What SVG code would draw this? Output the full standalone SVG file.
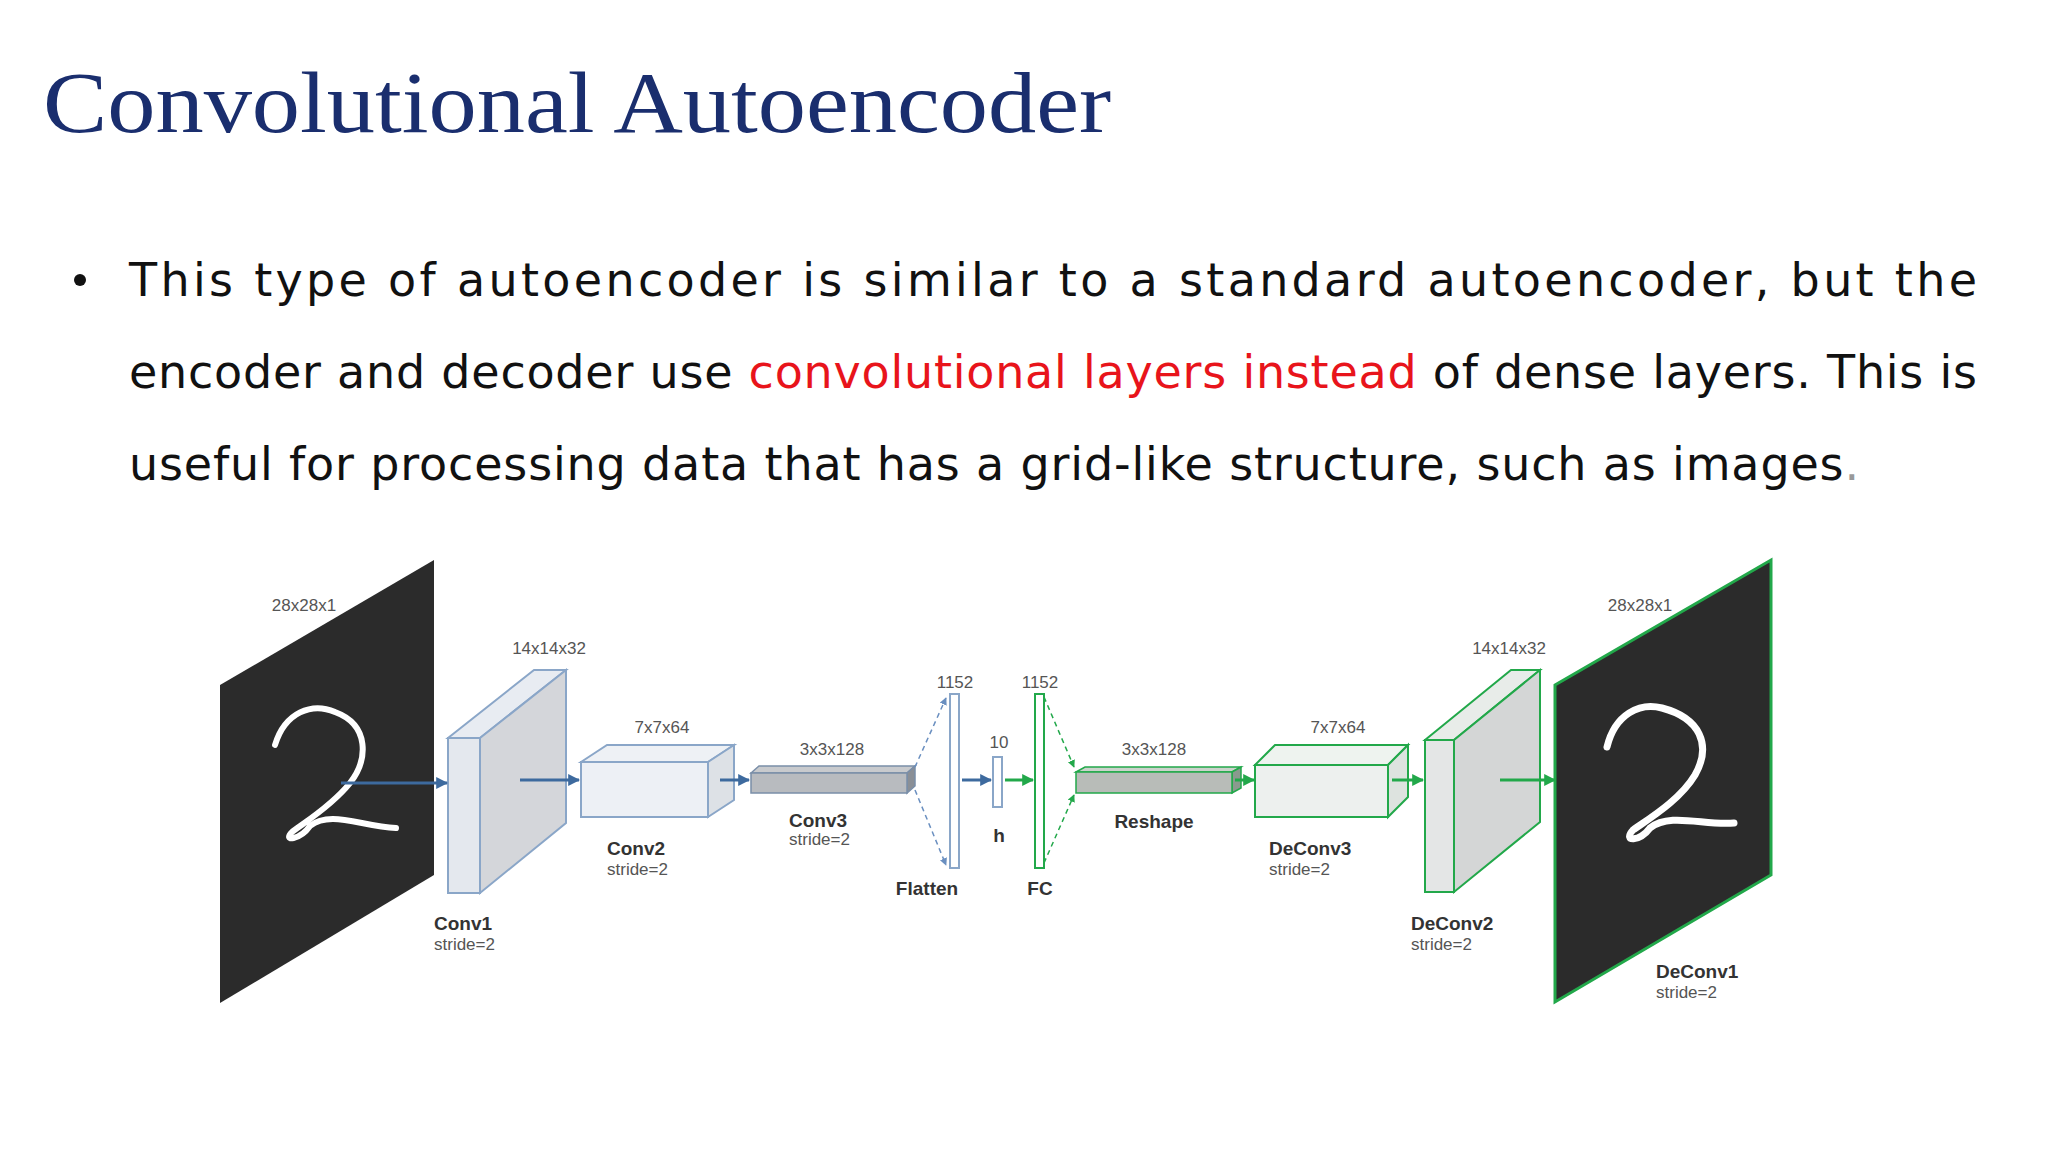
<svg xmlns="http://www.w3.org/2000/svg" width="2048" height="1152" viewBox="0 0 2048 1152">
<defs>
<style>
.t{font-family:"Liberation Sans",Arial,sans-serif;fill:#555;font-size:17px;text-anchor:middle}
.b{font-family:"Liberation Sans",Arial,sans-serif;fill:#333;font-size:19px;font-weight:bold}
.s{font-family:"Liberation Sans",Arial,sans-serif;fill:#555;font-size:17px}
.body{font-family:"DejaVu Sans",sans-serif;font-size:46px;fill:#111}
.bl{stroke:#3d6a9e;stroke-width:3;fill:none}
.gr{stroke:#22a84a;stroke-width:3;fill:none}
.dbl{stroke:#6a8fc0;stroke-width:1.5;stroke-dasharray:5 4;fill:none}
.dgr{stroke:#22a84a;stroke-width:1.5;stroke-dasharray:5 4;fill:none}
</style>
<marker id="ab" viewBox="0 0 10 10" refX="9" refY="5" markerWidth="4" markerHeight="4" orient="auto"><path d="M0,0L10,5L0,10z" fill="#3d6a9e"/></marker>
<marker id="ag" viewBox="0 0 10 10" refX="9" refY="5" markerWidth="4" markerHeight="4" orient="auto"><path d="M0,0L10,5L0,10z" fill="#22a84a"/></marker>
<marker id="abs" viewBox="0 0 10 10" refX="9" refY="5" markerWidth="5" markerHeight="5" orient="auto"><path d="M0,0L10,5L0,10z" fill="#6a8fc0"/></marker>
<marker id="ags" viewBox="0 0 10 10" refX="9" refY="5" markerWidth="5" markerHeight="5" orient="auto"><path d="M0,0L10,5L0,10z" fill="#22a84a"/></marker>
</defs>
<rect width="2048" height="1152" fill="#fff"/>
<text x="43" y="132" font-family="'Liberation Serif','DejaVu Serif',serif" font-size="86" fill="#1a2e6e" textLength="1068" lengthAdjust="spacingAndGlyphs">Convolutional Autoencoder</text>
<circle cx="80" cy="280" r="6" fill="#111"/>
<text class="body" x="129" y="296" textLength="1848" lengthAdjust="spacing">This type of autoencoder is similar to a standard autoencoder, but the</text>
<text class="body" x="129" y="388" textLength="1848" lengthAdjust="spacing">encoder and decoder use <tspan fill="#e8141b">convolutional layers instead</tspan> of dense layers. This is</text>
<text class="body" x="129" y="480" textLength="1730" lengthAdjust="spacing">useful for processing data that has a grid-like structure, such as images<tspan fill="#999">.</tspan></text>

<g id="input">
<polygon points="220,685 434,560 434,875 220,1003" fill="#2b2b2b"/>
<path d="M275,745 C285,712 312,702 335,712 C370,725 368,760 350,783 C330,808 300,825 292,832 C282,842 300,840 310,826 C330,810 360,826 396,828" stroke="#fff" stroke-width="6" fill="none" stroke-linecap="round"/>
<text class="t" x="304" y="611">28x28x1</text>
</g>
<g id="conv1">
<polygon points="448,738 534,670 566,670 480,738" fill="#e8ecf2" stroke="#8aa6c8" stroke-width="2"/>
<polygon points="480,738 566,670 566,823 480,893" fill="#d4d6da" stroke="#8aa6c8" stroke-width="2"/>
<rect x="448" y="738" width="32" height="155" fill="#e4e8ee" stroke="#8aa6c8" stroke-width="2"/>
<text class="t" x="549" y="654">14x14x32</text>
<text class="b" x="434" y="930">Conv1</text><text class="s" x="434" y="950">stride=2</text>
</g>
<g id="conv2">
<polygon points="581,762 607,745 734,745 708,762" fill="#eef1f5" stroke="#8aa6c8" stroke-width="2"/>
<polygon points="708,762 734,745 734,800 708,817" fill="#dde1e6" stroke="#8aa6c8" stroke-width="2"/>
<rect x="581" y="762" width="127" height="55" fill="#e8ecf2" fill-opacity="0.8" stroke="#8aa6c8" stroke-width="2"/>
<text class="t" x="662" y="733">7x7x64</text>
<text class="b" x="607" y="855">Conv2</text><text class="s" x="607" y="875">stride=2</text>
</g>
<g id="conv3">
<polygon points="751,773 759,766 915,766 907,773" fill="#c8cacd" stroke="#7a8ea8" stroke-width="1.5"/>
<polygon points="907,773 915,766 915,786 907,793" fill="#8a8f96" stroke="#7a8ea8" stroke-width="1.5"/>
<rect x="751" y="773" width="156" height="20" fill="#b8bbbf" stroke="#7a8ea8" stroke-width="1.5"/>
<text class="t" x="832" y="755">3x3x128</text>
<text class="b" x="789" y="827">Conv3</text><text class="s" x="789" y="845">stride=2</text>
</g>
<g id="flatten">
<rect x="950" y="694" width="9" height="174" fill="#fff" stroke="#8aa6c8" stroke-width="2"/>
<text class="t" x="955" y="688">1152</text>
<text class="b" x="927" y="895" text-anchor="middle">Flatten</text>
</g>
<g id="h">
<rect x="993" y="757" width="9" height="50" fill="#fff" stroke="#8aa6c8" stroke-width="2"/>
<text class="t" x="999" y="748">10</text>
<text class="b" x="999" y="842" text-anchor="middle" font-size="16">h</text>
</g>
<g id="fc">
<rect x="1035" y="694" width="9" height="174" fill="#fff" stroke="#22a84a" stroke-width="2"/>
<text class="t" x="1040" y="688">1152</text>
<text class="b" x="1040" y="895" text-anchor="middle">FC</text>
</g>
<g id="reshape">
<polygon points="1076,772 1085,767 1241,767 1232,772" fill="#ccd3cc" stroke="#22a84a" stroke-width="1.5"/>
<polygon points="1232,772 1241,767 1241,788 1232,793" fill="#8a9a8e" stroke="#22a84a" stroke-width="1.5"/>
<rect x="1076" y="772" width="156" height="21" fill="#b8bcb8" stroke="#22a84a" stroke-width="1.5"/>
<text class="t" x="1154" y="755">3x3x128</text>
<text class="b" x="1154" y="828" text-anchor="middle">Reshape</text>
</g>
<g id="deconv3">
<polygon points="1255,765 1275,745 1408,745 1388,765" fill="#eef3ef" stroke="#22a84a" stroke-width="2"/>
<polygon points="1388,765 1408,745 1408,797 1388,817" fill="#dde3df" stroke="#22a84a" stroke-width="2"/>
<rect x="1255" y="765" width="133" height="52" fill="#e8ecea" fill-opacity="0.8" stroke="#22a84a" stroke-width="2"/>
<text class="t" x="1338" y="733">7x7x64</text>
<text class="b" x="1269" y="855">DeConv3</text><text class="s" x="1269" y="875">stride=2</text>
</g>
<g id="deconv2">
<polygon points="1425,740 1511,670 1540,670 1454,740" fill="#e8ece9" stroke="#22a84a" stroke-width="2"/>
<polygon points="1454,740 1540,670 1540,822 1454,892" fill="#d4d6d6" stroke="#22a84a" stroke-width="2"/>
<rect x="1425" y="740" width="29" height="152" fill="#e4e6e6" stroke="#22a84a" stroke-width="2"/>
<text class="t" x="1509" y="654">14x14x32</text>
<text class="b" x="1411" y="930">DeConv2</text><text class="s" x="1411" y="950">stride=2</text>
</g>
<g id="output">
<polygon points="1555,685 1771,560 1771,875 1555,1002" fill="#2b2b2b" stroke="#22a84a" stroke-width="3"/>
<path d="M1607,747 C1615,714 1640,702 1662,708 C1700,718 1712,745 1695,775 C1680,800 1650,818 1633,830 C1622,842 1640,842 1650,828 C1670,812 1705,826 1734,823" stroke="#fff" stroke-width="7" fill="none" stroke-linecap="round"/>
<text class="t" x="1640" y="611">28x28x1</text>
<text class="b" x="1656" y="978">DeConv1</text><text class="s" x="1656" y="998">stride=2</text>
</g>
<g id="connectors">
<line class="bl" x1="341" y1="783" x2="447" y2="783" marker-end="url(#ab)"/>
<line class="bl" x1="520" y1="780" x2="579" y2="780" marker-end="url(#ab)"/>
<line class="bl" x1="720" y1="780" x2="749" y2="780" marker-end="url(#ab)"/>
<line class="dbl" x1="915" y1="767" x2="946" y2="698" marker-end="url(#abs)"/>
<line class="dbl" x1="915" y1="790" x2="946" y2="865" marker-end="url(#abs)"/>
<line class="bl" x1="962" y1="780" x2="991" y2="780" marker-end="url(#ab)"/>
<line class="gr" x1="1005" y1="780" x2="1033" y2="780" marker-end="url(#ag)"/>
<line class="dgr" x1="1044" y1="697" x2="1074" y2="767" marker-end="url(#ags)"/>
<line class="dgr" x1="1044" y1="863" x2="1074" y2="795" marker-end="url(#ags)"/>
<line class="gr" x1="1235" y1="780" x2="1254" y2="780" marker-end="url(#ag)"/>
<line class="gr" x1="1392" y1="780" x2="1423" y2="780" marker-end="url(#ag)"/>
<line class="gr" x1="1500" y1="780" x2="1555" y2="780" marker-end="url(#ag)"/>
</g>
</svg>
